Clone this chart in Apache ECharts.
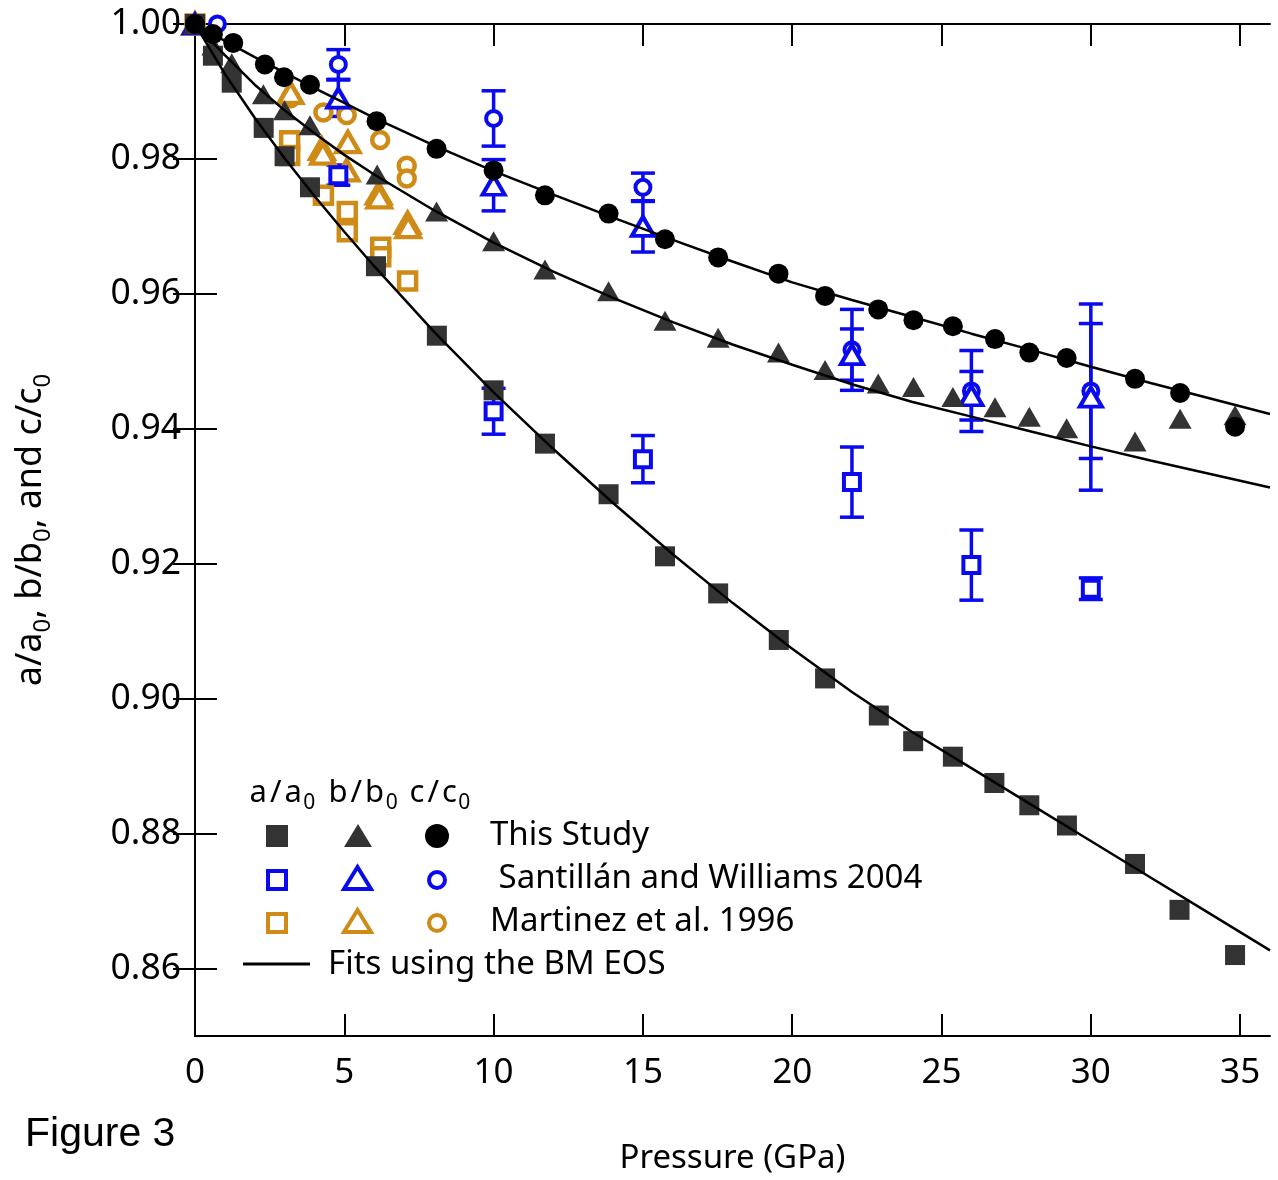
<!DOCTYPE html>
<html>
<head>
<meta charset="utf-8">
<script src="https://cdn.jsdelivr.net/npm/echarts@6/dist/echarts.min.js"></script>
<style>
  html, body { margin: 0; padding: 0; background: #fff; }
  #chart { width: 1278px; height: 1180px; }
</style>
</head>
<body>
<div id="chart"></div>
<script>
// Axis ticks
const xTicks = [0, 5, 10, 15, 20, 25, 30, 35];
const yTicks = [0.86, 0.88, 0.90, 0.92, 0.94, 0.96, 0.98, 1.00];

// This Study: [pressure GPa, ratio]
const studyA = [[0,1.0],[0.6,0.9953],[1.23,0.9913],[2.3,0.9846],[3.0,0.9804],[3.85,0.9758],[6.06,0.9641],[8.1,0.9538],[10.0,0.9457],[11.72,0.9378],[13.85,0.9303],[15.74,0.9211],[17.52,0.9156],[19.55,0.9087],[21.1,0.9030],[22.9,0.8975],[24.05,0.8937],[25.38,0.8914],[26.77,0.8875],[27.94,0.8842],[29.2,0.8812],[31.48,0.8755],[32.97,0.8687],[34.83,0.8620]];
const studyB = [[0,1.0],[0.6,0.9968],[1.23,0.9942],[2.29,0.9896],[3.0,0.9872],[3.85,0.9850],[6.1,0.9777],[8.09,0.9722],[10.0,0.9678],[11.72,0.9636],[13.85,0.9604],[15.74,0.9560],[17.52,0.9535],[19.54,0.9513],[21.1,0.9487],[22.88,0.9467],[24.06,0.9462],[25.38,0.9447],[26.79,0.9432],[27.94,0.9418],[29.19,0.9401],[31.48,0.9381],[32.99,0.9415],[34.83,0.9420]];
const studyC = [[0,1.0],[0.6,0.9985],[1.28,0.9972],[2.34,0.9940],[2.98,0.9921],[3.85,0.9910],[6.08,0.9856],[8.09,0.9815],[10.0,0.9783],[11.72,0.9746],[13.85,0.9719],[15.74,0.9681],[17.52,0.9654],[19.54,0.9630],[21.1,0.9597],[22.88,0.9577],[24.06,0.9561],[25.38,0.9552],[26.79,0.9533],[27.94,0.9513],[29.19,0.9505],[31.48,0.9474],[32.99,0.9453],[34.83,0.9403]];

// Santillán and Williams 2004: [pressure, ratio, uncertainty]
const santA = [[0,1.0,0],[4.8,0.9776,0.0015],[10.0,0.9426,0.0034],[15.0,0.9355,0.0035],[22.0,0.9321,0.0052],[26.0,0.9198,0.0052],[30.0,0.9163,0.0016]];
const santB = [[0,1.0,0],[4.8,0.9890,0.0027],[10.0,0.9761,0.0038],[15.0,0.9700,0.0038],[22.0,0.9510,0.0038],[26.0,0.9449,0.0036],[30.0,0.9447,0.0138]];
const santC = [[0.75,1.0,0],[4.8,0.9940,0.0022],[10.0,0.9860,0.0041],[15.0,0.9758,0.0021],[22.0,0.9517,0.0060],[26.0,0.9456,0.0060],[30.0,0.9456,0.0100]];

// Martinez et al. 1996
const martA = [[0,1.0],[3.17,0.9827],[3.17,0.9805],[4.3,0.9746],[5.1,0.9722],[5.1,0.9692],[6.22,0.9669],[6.22,0.9655],[7.12,0.9619]];
const martB = [[0,1.0],[3.2,0.9898],[4.25,0.9815],[4.28,0.9808],[5.12,0.9825],[5.08,0.9783],[6.15,0.9749],[6.17,0.9743],[7.12,0.9705],[7.14,0.9699]];
const martC = [[0,1.0],[3.2,0.9890],[4.3,0.9869],[5.08,0.9865],[6.2,0.9828],[7.09,0.9790],[7.09,0.9771]];

// Birch-Murnaghan EOS fit curves
const fitA = [[0,1.0],[1,0.9926],[2,0.9861],[3,0.9801],[4,0.9745],[5,0.9692],[6,0.9641],[8,0.9544],[10,0.9454],[12,0.9370],[14,0.9290],[16,0.9214],[18,0.9142],[20,0.9074],[22,0.9010],[24,0.8951],[26,0.8897],[28,0.8843],[30,0.8789],[32,0.8735],[34,0.8681],[36,0.8627]];
const fitB = [[0,1.0],[1,0.9954],[2,0.9910],[3,0.9872],[4,0.9838],[5,0.9806],[6,0.9777],[8,0.9724],[10,0.9676],[12,0.9633],[14,0.9594],[16,0.9558],[18,0.9525],[20,0.9495],[22,0.9466],[24,0.9440],[26,0.9418],[28,0.9396],[30,0.9374],[32,0.9353],[34,0.9333],[36,0.9313]];
const fitC = [[0,1.0],[1,0.9975],[2,0.9951],[3,0.9928],[4,0.9905],[5,0.9883],[6,0.9861],[8,0.9820],[10,0.9782],[12,0.9747],[14,0.9713],[16,0.9680],[18,0.9648],[20,0.9617],[22,0.9591],[24,0.9566],[26,0.9541],[28,0.9517],[30,0.9492],[32,0.9468],[34,0.9445],[36,0.9422]];

// Legend header labels (ratio name, subscript)
const headerLabels = [['a/a', '0'], ['b/b', '0'], ['c/c', '0']];

const FONT = "'Noto Sans', 'DejaVu Sans', sans-serif";
const BLUE = '#0a0af0';
const ORANGE = '#cf8b17';
const DARK = '#333333';

const chart = echarts.init(document.getElementById('chart'), null, { renderer: 'canvas' });

function errorBars(data, color) {
  return {
    type: 'custom',
    xAxisIndex: 0, yAxisIndex: 0,
    data: data.filter(d => d[2] > 0),
    encode: { x: 0, y: 1 },
    silent: true,
    renderItem: function (params, api) {
      const x = api.value(0), y = api.value(1), e = api.value(2);
      const hi = api.coord([x, y + e]);
      const lo = api.coord([x, y - e]);
      const hw = 12;
      const st = { stroke: color, lineWidth: 3.5, fill: null };
      return {
        type: 'group',
        children: [
          { type: 'line', shape: { x1: hi[0], y1: hi[1], x2: lo[0], y2: lo[1] }, style: st },
          { type: 'line', shape: { x1: hi[0] - hw, y1: hi[1], x2: hi[0] + hw, y2: hi[1] }, style: st },
          { type: 'line', shape: { x1: lo[0] - hw, y1: lo[1], x2: lo[0] + hw, y2: lo[1] }, style: st }
        ]
      };
    }
  };
}

function scatter(data, symbol, size, style) {
  return {
    type: 'scatter',
    data: data.map(d => [d[0], d[1]]),
    symbol: symbol,
    symbolSize: size,
    itemStyle: Object.assign({ opacity: 1 }, style),
    silent: true
  };
}

function fitLine(data) {
  return {
    type: 'line',
    data: data,
    showSymbol: false,
    smooth: false,
    lineStyle: { color: '#000', width: 2.5 },
    silent: true
  };
}

const tickStyle = { color: '#000', width: 2 };
const lineStyle = { color: '#000', width: 2 };

const openBlue = { color: '#fff', borderColor: BLUE, borderWidth: 4 };
const openOrange = { color: '#fff', borderColor: ORANGE, borderWidth: 4.5 };

const subStyle = { fontSize: 24, fontFamily: FONT, padding: [24, 0, 0, 0], color: '#000' };

// legend header: each ratio placed at its own column
const headerX = [248, 327, 408];
const headerGraphics = headerLabels.map((h, i) => ({
  type: 'text', x: headerX[i], y: 793,
  style: {
    text: h[0].split('').map(ch => '{n|' + ch + '}').join('') + '{s|' + h[1] + '}',
    verticalAlign: 'middle',
    rich: {
      n: { fontSize: 31, fontFamily: FONT, color: '#000', padding: [0, 1.5, 0, 1.5] },
      s: { fontSize: 21, fontFamily: FONT, color: '#000', padding: [20, 0, 0, 0] }
    }
  }
}));

const option = {
  backgroundColor: '#fff',
  animation: false,
  grid: { left: 195, right: 8, top: 24, bottom: 135 },
  xAxis: [
    {
      type: 'value', min: 0, max: 36, position: 'bottom',
      axisLine: { show: true, lineStyle: lineStyle },
      axisTick: { show: true, inside: true, length: 22, lineStyle: tickStyle, customValues: xTicks },
      axisLabel: { customValues: xTicks, color: '#000', fontFamily: FONT, fontSize: 35, margin: 20 },
      splitLine: { show: false },
      name: 'Pressure (GPa)', nameLocation: 'middle', nameGap: 106,
      nameTextStyle: { color: '#000', fontFamily: FONT, fontSize: 33 }
    },
    {
      type: 'value', min: 0, max: 36, position: 'top',
      axisLine: { show: true, lineStyle: lineStyle },
      axisTick: { show: true, inside: true, length: 22, lineStyle: tickStyle, customValues: xTicks },
      axisLabel: { show: false },
      splitLine: { show: false }
    }
  ],
  yAxis: [
    {
      type: 'value', min: 0.85, max: 1.0, position: 'left',
      axisLine: { show: true, lineStyle: lineStyle },
      axisTick: { show: true, inside: true, length: 22, lineStyle: tickStyle, customValues: yTicks },
      axisLabel: { customValues: yTicks, formatter: v => v.toFixed(2), color: '#000', fontFamily: FONT, fontSize: 35.5, margin: 14 },
      splitLine: { show: false },
      name: 'a/a{s|0}, b/b{s|0}, and c/c{s|0}', nameLocation: 'middle', nameRotate: 90, nameGap: 140,
      nameTextStyle: { color: '#000', fontFamily: FONT, fontSize: 36, rich: { s: subStyle } }
    },
    {
      type: 'value', min: 0.85, max: 1.0, position: 'right',
      axisLine: { show: true, lineStyle: lineStyle },
      axisTick: { show: true, inside: true, length: 22, lineStyle: tickStyle, customValues: yTicks },
      axisLabel: { show: false },
      splitLine: { show: false }
    }
  ],
  series: [
    fitLine(fitA), fitLine(fitB), fitLine(fitC),
    scatter(martA, 'rect', 17, openOrange),
    scatter(martC, 'circle', 16, openOrange),
    scatter(martB, 'triangle', [23, 20], openOrange),
    errorBars(santA, BLUE), errorBars(santB, BLUE), errorBars(santC, BLUE),
    scatter(santA, 'rect', 16, openBlue),
    scatter(santC, 'circle', 15, openBlue),
    scatter(santB, 'triangle', [22, 19], openBlue),
    scatter(studyA, 'rect', 20, { color: DARK }),
    scatter(studyB, 'triangle', [23, 20], { color: DARK }),
    scatter(studyC, 'circle', 20, { color: '#000' })
  ],
  graphic: headerGraphics.concat([
    // This Study
    { type: 'rect', shape: { x: 266, y: 825, width: 22, height: 22 }, style: { fill: DARK } },
    { type: 'polygon', shape: { points: [[344, 847], [372, 847], [358, 824]] }, style: { fill: DARK } },
    { type: 'circle', shape: { cx: 437, cy: 836, r: 12 }, style: { fill: '#000' } },
    { type: 'text', x: 490, y: 836, style: { text: 'This Study', font: '33px ' + FONT, fill: '#000', verticalAlign: 'middle' } },
    // Santillán and Williams 2004
    { type: 'rect', shape: { x: 268, y: 871, width: 18, height: 18 }, style: { fill: '#fff', stroke: BLUE, lineWidth: 4 } },
    { type: 'polygon', shape: { points: [[344, 889], [371, 889], [357.5, 867]] }, style: { fill: '#fff', stroke: BLUE, lineWidth: 4 } },
    { type: 'circle', shape: { cx: 437, cy: 880, r: 8 }, style: { fill: '#fff', stroke: BLUE, lineWidth: 4 } },
    { type: 'text', x: 490, y: 879, style: { text: ' Santillán and Williams 2004', font: '33px ' + FONT, fill: '#000', verticalAlign: 'middle' } },
    // Martinez et al. 1996
    { type: 'rect', shape: { x: 268, y: 914, width: 18, height: 18 }, style: { fill: '#fff', stroke: ORANGE, lineWidth: 4 } },
    { type: 'polygon', shape: { points: [[344, 932], [371, 932], [357.5, 910]] }, style: { fill: '#fff', stroke: ORANGE, lineWidth: 4 } },
    { type: 'circle', shape: { cx: 437, cy: 923, r: 8 }, style: { fill: '#fff', stroke: ORANGE, lineWidth: 4 } },
    { type: 'text', x: 490, y: 922, style: { text: 'Martinez et al. 1996', font: '33px ' + FONT, fill: '#000', verticalAlign: 'middle' } },
    // fit line key
    { type: 'line', shape: { x1: 243, y1: 964, x2: 310, y2: 964 }, style: { stroke: '#000', lineWidth: 3 } },
    { type: 'text', x: 328, y: 965, style: { text: 'Fits using the BM EOS', font: '33px ' + FONT, fill: '#000', verticalAlign: 'middle' } },
    // figure caption
    { type: 'text', x: 25, y: 1135, style: { text: 'Figure 3', font: '41px "Liberation Sans", Arial, sans-serif', fill: '#000', verticalAlign: 'middle' } }
  ])
};

chart.setOption(option);
</script>
</body>
</html>
